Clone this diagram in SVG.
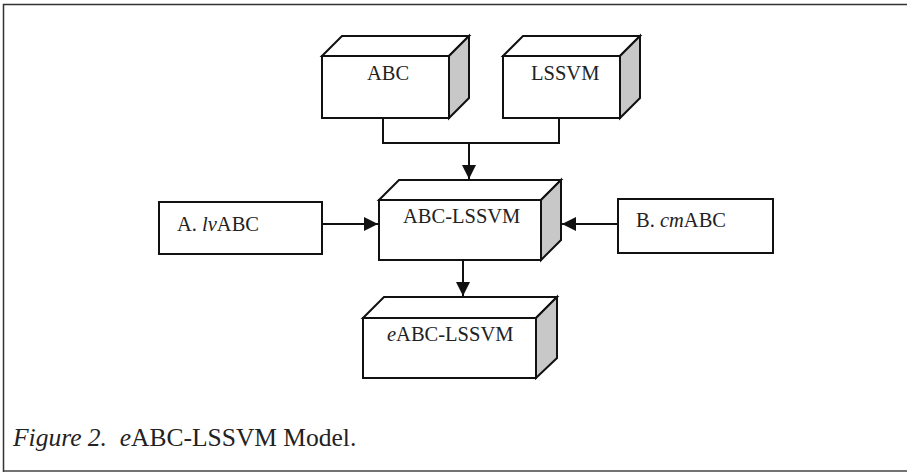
<svg xmlns="http://www.w3.org/2000/svg" width="907" height="472" viewBox="0 0 907 472">
<style>
  .front { fill: #ffffff; stroke: #111; stroke-width: 2; stroke-linejoin: miter; }
  .top { fill: #ffffff; stroke: #111; stroke-width: 2; stroke-linejoin: miter; }
  .side { fill: #c8c8c8; stroke: #111; stroke-width: 2; stroke-linejoin: miter; }
  .lbl { font-family: "Liberation Serif", "Times New Roman", serif; font-size: 20.5px; fill: #222; }
  .cap { font-family: "Liberation Serif", "Times New Roman", serif; font-size: 25.5px; fill: #222; }
  .conn { fill: none; stroke: #111; stroke-width: 2; }
</style>
<defs>
  <marker id="arr" viewBox="0 0 14 14" refX="14" refY="7" markerWidth="14" markerHeight="14" markerUnits="userSpaceOnUse" orient="auto">
    <path d="M0,0 L14,7 L0,14 Z" fill="#111"/>
  </marker>
</defs>
<rect width="907" height="472" fill="#ffffff"/>
<path d="M3.5,472 L3.5,4.5 L910,4.5" fill="none" stroke="#333" stroke-width="1.5"/>
<path d="M3.5,471 L910,471" fill="none" stroke="#444" stroke-width="1.5"/>

<g id="node-abc">
  <polygon class="top" points="322,56 342,36 469,36 449,56"/>
  <polygon class="side" points="449,56 469,36 469,98 449,118"/>
  <rect class="front" x="322" y="56" width="127" height="62"/>
  <text class="lbl" x="367" y="80">ABC</text>
</g>

<g id="node-lssvm">
  <polygon class="top" points="503,56 523,36 640,36 620,56"/>
  <polygon class="side" points="620,56 640,36 640,98 620,118"/>
  <rect class="front" x="503" y="56" width="117" height="62"/>
  <text class="lbl" x="531" y="80">LSSVM</text>
</g>

<g id="node-abc-lssvm">
  <polygon class="top" points="379,200 399,180 561,180 541,200"/>
  <polygon class="side" points="541,200 561,180 561,240 541,260"/>
  <rect class="front" x="379" y="200" width="162" height="60"/>
  <text class="lbl" x="403" y="223">ABC-LSSVM</text>
</g>

<g id="node-lvabc">
  <rect class="front" x="159" y="202" width="163" height="52"/>
  <text class="lbl" x="177" y="231">A. <tspan font-style="italic">lv</tspan>ABC</text>
</g>

<g id="node-cmabc">
  <rect class="front" x="618" y="199" width="155" height="54"/>
  <text class="lbl" x="636" y="227">B. <tspan font-style="italic">cm</tspan>ABC</text>
</g>

<g id="node-eabc-lssvm">
  <polygon class="top" points="363,318 384,297 557,297 536,318"/>
  <polygon class="side" points="536,318 557,297 557,358 536,378"/>
  <rect class="front" x="363" y="318" width="173" height="60"/>
  <text class="lbl" x="387" y="341"><tspan font-style="italic">e</tspan>ABC-LSSVM</text>
</g>

<g id="connectors">
  <path class="conn" d="M383,119 L383,143 L559,143 L559,119"/>
  <path class="conn" d="M469,143 L469,179" marker-end="url(#arr)"/>
  <path class="conn" d="M322,224 L378,224" marker-end="url(#arr)"/>
  <path class="conn" d="M617,224 L562,224" marker-end="url(#arr)"/>
  <path class="conn" d="M463,261 L463,296" marker-end="url(#arr)"/>
</g>

<text class="cap" x="13" y="446" xml:space="preserve"><tspan font-style="italic">Figure 2.</tspan>  <tspan font-style="italic">e</tspan>ABC-LSSVM Model.</text>
</svg>
